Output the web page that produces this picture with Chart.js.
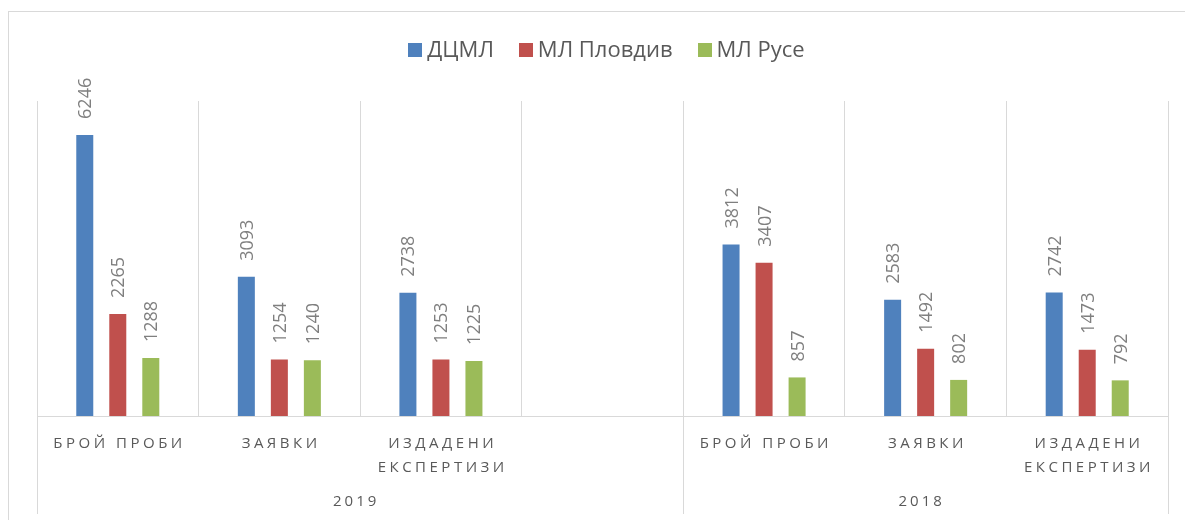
<!DOCTYPE html>
<html lang="bg">
<head>
    <meta charset="UTF-8">
    <meta name="viewport" content="width=device-width, initial-scale=1.0">
    <title>ДЦМЛ, МЛ Пловдив, МЛ Русе - 2019 / 2018</title>
    <script src="https://cdn.jsdelivr.net/npm/chart.js"></script>
    <style>
        body {
            margin: 0;
            background: #ffffff;
            font-family: 'Open Sans', sans-serif;
        }
        .chart-box {
            position: relative;
            width: 1185px;
            height: 520px;
        }
    </style>
</head>
<body>
    <div class="chart-box">
        <canvas id="labChart"></canvas>
    </div>

    <script>
        // Data
        const categories = [
            ['БРОЙ ПРОБИ'], ['ЗАЯВКИ'], ['ИЗДАДЕНИ', 'ЕКСПЕРТИЗИ'], [''],
            ['БРОЙ ПРОБИ'], ['ЗАЯВКИ'], ['ИЗДАДЕНИ', 'ЕКСПЕРТИЗИ']
        ];
        const years = ['2019', '2018'];
        const yearFirst = [0, 4];   // first category index of each year
        const yearLast = [3, 6];    // last category index of each year
        const seriesNames = ['ДЦМЛ', 'МЛ Пловдив', 'МЛ Русе'];
        const dcml = [6246, 3093, 2738, null, 3812, 2583, 2742];
        const plovdiv = [2265, 1254, 1253, null, 3407, 1492, 1473];
        const ruse = [1288, 1240, 1225, null, 857, 802, 792];
        const yMax = 7000;

        const colors = ['#4f81bd', '#c0504d', '#9bbb59'];
        const gridColor = '#d9d9d9';
        const textColor = '#595959';
        const labelColor = '#7f7f7f';
        const fontFamily = "'Open Sans', 'Liberation Sans', sans-serif";

        // Rotated value labels above the bars
        const valueLabels = {
            id: 'valueLabels',
            afterDatasetsDraw(chart) {
                const ctx = chart.ctx;
                const size = 18;
                ctx.save();
                ctx.font = size + 'px ' + fontFamily;
                ctx.fillStyle = labelColor;
                ctx.textAlign = 'left';
                ctx.textBaseline = 'alphabetic';
                chart.data.datasets.forEach((ds, di) => {
                    chart.getDatasetMeta(di).data.forEach((bar, i) => {
                        const v = ds.data[i];
                        if (v === null || v === undefined) return;
                        ctx.save();
                        ctx.translate(bar.x, bar.y - 16);
                        ctx.rotate(-Math.PI / 2);
                        ctx.fillText(String(v), 0, size * 0.36);
                        ctx.restore();
                    });
                });
                ctx.restore();
            }
        };

        // Legend, two-level category axis and the outer frame
        const decorations = {
            id: 'decorations',
            beforeDraw(chart) {
                const ctx = chart.ctx;
                ctx.save();
                ctx.fillStyle = '#ffffff';
                ctx.fillRect(0, 0, chart.width, chart.height);
                ctx.strokeStyle = gridColor;
                ctx.lineWidth = 1;
                ctx.strokeRect(8.5, 11.5, chart.width + 20, chart.height + 20);
                ctx.restore();
            },
            afterDraw(chart) {
                const ctx = chart.ctx;
                const xs = chart.scales.x;
                const area = chart.chartArea;
                ctx.save();

                // legend
                ctx.font = '22px ' + fontFamily;
                ctx.textBaseline = 'alphabetic';
                ctx.textAlign = 'left';
                const box = 14, boxGap = 5, itemGap = 25;
                const widths = seriesNames.map(n => ctx.measureText(n).width);
                let total = 0;
                widths.forEach((w, i) => { total += box + boxGap + w + (i ? itemGap : 0); });
                let x = 606.5 - total / 2;
                seriesNames.forEach((n, i) => {
                    ctx.fillStyle = colors[i];
                    ctx.fillRect(Math.round(x), 43, box, box);
                    ctx.fillStyle = textColor;
                    ctx.fillText(n, x + box + boxGap, 57);
                    x += box + boxGap + widths[i] + itemGap;
                });

                // category labels
                ctx.font = '15px ' + fontFamily;
                ctx.fillStyle = textColor;
                ctx.textAlign = 'center';
                ctx.letterSpacing = '3.5px';
                categories.forEach((lines, i) => {
                    const cx = xs.getPixelForValue(i);
                    lines.forEach((line, k) => {
                        ctx.fillText(line, cx + 1.75, 448 + k * 23.5);
                    });
                });

                // year labels and group ticks
                const step = xs.getPixelForValue(1) - xs.getPixelForValue(0);
                ctx.letterSpacing = '3px';
                ctx.strokeStyle = gridColor;
                ctx.lineWidth = 1;
                years.forEach((yr, j) => {
                    const left = xs.getPixelForValue(yearFirst[j]) - step / 2;
                    const right = xs.getPixelForValue(yearLast[j]) + step / 2;
                    ctx.fillText(yr, (left + right) / 2 - 4, 506);
                    [left, right].forEach(px => {
                        const lx = Math.round(px) + 0.5;
                        ctx.beginPath();
                        ctx.moveTo(lx, area.bottom);
                        ctx.lineTo(lx, 514);
                        ctx.stroke();
                    });
                });
                ctx.restore();
            }
        };

        const datasetValues = [dcml, plovdiv, ruse];
        new Chart(document.getElementById('labChart'), {
            type: 'bar',
            data: {
                labels: categories.map(c => c.join(' ')),
                datasets: seriesNames.map((name, i) => ({
                    label: name,
                    data: datasetValues[i],
                    backgroundColor: colors[i],
                    borderWidth: 0,
                    categoryPercentage: 0.613,
                    barPercentage: 0.515
                }))
            },
            options: {
                responsive: true,
                maintainAspectRatio: false,
                animation: false,
                layout: { padding: { left: 37, right: 17, top: 101, bottom: 0 } },
                plugins: {
                    legend: { display: false },
                    tooltip: { enabled: false }
                },
                scales: {
                    x: {
                        grid: { color: gridColor, drawTicks: false, offset: true },
                        border: { color: gridColor },
                        ticks: { display: false },
                        afterFit(scale) { scale.height = 104; }
                    },
                    y: { display: false, min: 0, max: yMax }
                }
            },
            plugins: [valueLabels, decorations]
        });
    </script>
</body>
</html>
